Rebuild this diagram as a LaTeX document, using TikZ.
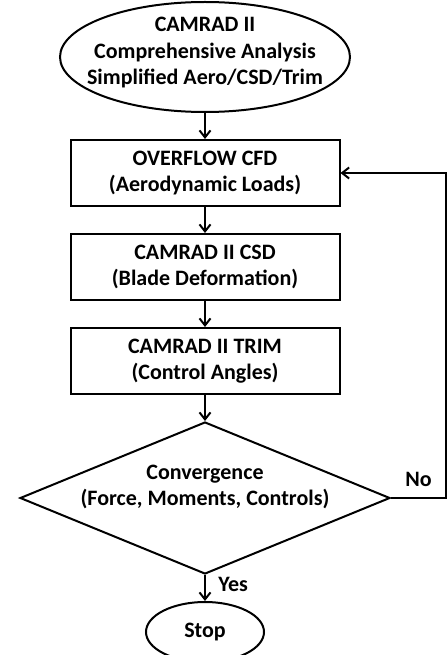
\documentclass[tikz,border=0pt]{standalone}
\usepackage{fontspec}
\setmainfont{Carlito}
\usepackage{tikz}
\usetikzlibrary{positioning,arrows.meta,shapes.geometric}
\tikzset{
  startnode/.style={ellipse,draw,line width=2pt,minimum width=290pt,minimum height=110pt},
  procbox/.style  ={rectangle,draw,line width=2pt,align=center,
                   minimum width=269pt,minimum height=66pt},
  decide/.style   ={diamond,draw,line width=2pt,aspect=2.43,
                   minimum width=370pt,minimum height=152pt},
  stopnode/.style ={ellipse,draw,line width=2pt,minimum width=118pt,minimum height=60pt},
  flow/.style     ={-{Straight Barb[length=7pt,width=11pt]},line width=2pt},
}

\begin{document}
\begin{tikzpicture}[x=1pt,y=1pt,node distance=26pt,
  every node/.style={font=\bfseries\fontsize{22}{26.5}\selectfont}]
  \useasboundingbox (0,0) rectangle (447,-655);
  \node[startnode,label={[align=center,yshift=4pt]center:CAMRAD II\\ Comprehensive Analysis\\ Simplified Aero/CSD/Trim}] (camrad) at (205,-57) {};
  \node[procbox,below=of camrad] (cfd) {OVERFLOW CFD\\ (Aerodynamic Loads)};
  \node[procbox,below=of cfd] (csd) {CAMRAD II CSD\\ (Blade Deformation)};
  \node[procbox,below=of csd] (trim) {CAMRAD II TRIM\\ (Control Angles)};
  \node[decide,below=of trim,label={[align=center,yshift=11pt]center:Convergence\\ (Force, Moments, Controls)}] (conv) {};
  \node[stopnode,below=of conv] (stop) {Stop};
  \draw[flow] (camrad) -- (cfd);
  \draw[flow] (cfd) -- (csd);
  \draw[flow] (csd) -- (trim);
  \draw[flow] (trim) -- (conv);
  \draw[flow] (conv) -- node[right=9pt,yshift=4pt] {Yes} (stop);
  \draw[flow] (conv.east) -- node[above=7pt] {No} ++(55,0) |- (cfd.east);
\end{tikzpicture}
\end{document}
